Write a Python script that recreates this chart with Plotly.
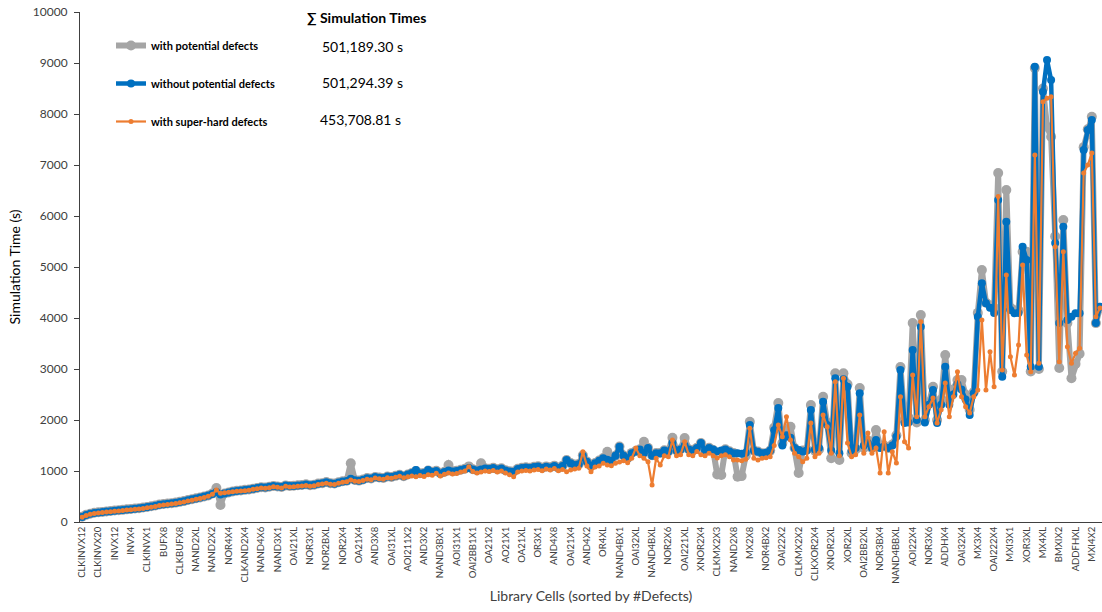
import plotly.graph_objects as go

# Labelled library cells (every 4th cell on the sorted axis)
tick_labels = [
    "CLKINVX12", "CLKINVX20", "INVX12", "INVX4", "CLKINVX1", "BUFX8", "CLKBUFX8",
    "NAND2XL", "NAND2X2", "NOR4X4", "CLKAND2X4", "NAND4X6", "NAND3X1", "OAI21XL",
    "NOR3X1", "NOR2BXL", "NOR2X4", "OA21X4", "AND3X8", "OAI31XL", "AOI211X2",
    "AND3X2", "NAND3BX1", "AOI31X1", "OAI2BB1X1", "OA21X2", "AO21X1", "OA21XL",
    "OR3X1", "AND4X8", "OAI21X4", "AND4X2", "OR4XL", "NAND4BX1", "OAI32XL",
    "NAND4BXL", "NOR2X6", "OAI221XL", "XNOR2X4", "CLKMX2X3", "NAND2X8", "MX2X8",
    "NOR4BX2", "OAI22X2", "CLKMX2X2", "CLKXOR2X4", "XNOR2XL", "XOR2XL",
    "OAI2BB2XL", "NOR3BX4", "NAND4BBXL", "AOI22X4", "NOR3X6", "ADDHX4", "OAI32X4",
    "MX3X4", "OAI222X4", "MXI3X1", "XOR3XL", "MX4XL", "BMXIX2", "ADDFHXL", "MXI4X2",
]
label_step = 4

# Simulation time (s) per library cell, sorted by number of defects
with_potential = [
    105, 140, 162, 180, 190, 198, 208, 215, 225, 232,
    238, 248, 255, 265, 272, 283, 295, 308, 323, 342,
    352, 362, 370, 380, 395, 410, 430, 448, 465, 482,
    500, 520, 560, 665, 335, 560, 580, 600, 612, 620,
    630, 638, 652, 668, 680, 678, 692, 708, 698, 688,
    718, 708, 710, 720, 725, 738, 722, 732, 755, 762,
    782, 762, 755, 778, 798, 808, 1150, 822, 812, 832,
    862, 855, 882, 872, 865, 892, 882, 905, 928, 898,
    932, 962, 1000, 955, 962, 1010, 985, 1005, 955, 985,
    1118, 995, 1005, 1025, 1045, 1090, 1035, 1015, 1150, 1055,
    1045, 1065, 1035, 1055, 1015, 995, 990, 1045, 1065, 1075,
    1065, 1085, 1095, 1065, 1090, 1075, 1105, 1065, 1105, 1216,
    1155, 1125, 1135, 1310, 1185, 1105, 1155, 1205, 1255, 1379,
    1210, 1300, 1480, 1305, 1255, 1355, 1390, 1425, 1575, 1455,
    1310, 1355, 1355, 1405, 1385, 1650, 1405, 1425, 1647, 1425,
    1405, 1455, 1550, 1405, 1455, 1412, 930, 922, 1425, 1385,
    1355, 889, 900, 1300, 1967, 1400, 1380, 1350, 1350, 1400,
    1850, 2333, 1550, 1800, 1869, 1450, 960, 1400, 1420, 2294,
    1400, 1420, 2457, 1950, 1250, 2915, 1216, 2915, 2700, 1350,
    1420, 2627, 1450, 1600, 1450, 1804, 1500, 1500, 1450, 1520,
    1700, 3039, 2000, 2050, 3902, 1950, 4059, 2000, 2350, 2653,
    2000, 2400, 3275, 2400, 2600, 2784, 2784, 2500, 2200, 2550,
    4100, 4941, 4300, 4250, 4200, 6843, 2950, 6510, 4200, 4150,
    4150, 5300, 5300, 2950, 8900, 3000, 8500, 7751, 7555, 5600,
    3020, 5922, 3900, 2817, 3100, 3300, 7350, 7700, 7947, 3900,
    4200,
]
without_potential = [
    100, 135, 160, 178, 188, 196, 205, 213, 222, 230,
    236, 245, 252, 262, 270, 280, 292, 305, 320, 340,
    350, 360, 368, 378, 392, 408, 428, 446, 462, 480,
    498, 520, 550, 590, 540, 560, 580, 600, 610, 620,
    628, 635, 650, 665, 680, 675, 690, 705, 695, 685,
    715, 705, 708, 718, 722, 735, 720, 730, 752, 760,
    780, 760, 752, 775, 795, 805, 850, 820, 810, 830,
    860, 852, 880, 870, 862, 890, 880, 900, 925, 895,
    930, 960, 1020, 950, 960, 1020, 980, 1000, 950, 980,
    1010, 990, 1000, 1020, 1040, 1060, 1030, 1010, 1030, 1050,
    1040, 1060, 1030, 1050, 1010, 990, 987, 1040, 1060, 1070,
    1060, 1080, 1090, 1060, 1085, 1070, 1100, 1060, 1100, 1216,
    1150, 1120, 1130, 1300, 1180, 1100, 1150, 1200, 1250, 1220,
    1200, 1300, 1477, 1300, 1250, 1350, 1380, 1420, 1350, 1450,
    1300, 1350, 1350, 1400, 1380, 1550, 1400, 1420, 1500, 1420,
    1400, 1450, 1549, 1400, 1450, 1420, 1380, 1400, 1420, 1380,
    1350, 1350, 1340, 1360, 1902, 1400, 1379, 1350, 1360, 1400,
    1800, 2235, 1500, 1700, 1650, 1450, 1412, 1380, 1400, 2196,
    1420, 1450, 2360, 1900, 1400, 2817, 1350, 2800, 2653, 1400,
    1450, 2523, 1500, 1550, 1450, 1608, 1450, 1480, 1450, 1500,
    1673, 2980, 1941, 1950, 3373, 2000, 3830, 1950, 2300, 2588,
    1941, 2300, 3046, 2300, 2500, 2700, 2600, 2400, 2100, 2523,
    4026, 4680, 4290, 4200, 4100, 6314, 2849, 5889, 4157, 4092,
    4100, 5398, 5137, 3046, 8928, 3046, 8438, 9059, 8667, 5470,
    3902, 5790, 3961, 4026, 4092, 4092, 7294, 7686, 7882, 3902,
    4222,
]
super_hard = [
    95, 125, 150, 168, 178, 186, 195, 203, 210, 218,
    225, 233, 240, 248, 256, 265, 278, 290, 305, 325,
    335, 345, 352, 362, 375, 390, 410, 428, 445, 462,
    480, 505, 545, 625, 565, 575, 585, 594, 602, 610,
    615, 622, 640, 652, 667, 660, 672, 690, 680, 668,
    700, 688, 692, 702, 706, 718, 700, 712, 735, 745,
    762, 742, 735, 758, 778, 790, 824, 800, 792, 812,
    838, 830, 862, 848, 840, 868, 858, 878, 898, 870,
    889, 902, 885, 910, 892, 928, 918, 955, 902, 938,
    960, 942, 950, 978, 1000, 1085, 990, 962, 978, 1000,
    992, 1010, 982, 1000, 962, 925, 889, 978, 1000, 1012,
    1002, 1020, 1030, 1005, 1040, 1022, 1050, 1005, 1030, 987,
    1020, 1040, 1052, 1379, 1100, 987, 1080, 1100, 1150, 1120,
    1102, 1150, 1178, 1200, 1160, 1250, 1450, 1300, 1250, 1180,
    725, 1250, 1118, 1300, 1280, 1608, 1300, 1320, 1575, 1320,
    1300, 1380, 1320, 1300, 1350, 1300, 1255, 1300, 1320, 1280,
    1216, 1216, 1200, 1230, 1840, 1250, 1216, 1250, 1260, 1281,
    1500, 1902, 1673, 2065, 1608, 1350, 1281, 1183, 1250, 1941,
    1281, 1350, 2098, 1869, 1350, 2751, 1300, 2817, 1549, 1281,
    1320, 2098, 1350, 1745, 1350, 1451, 960, 1771, 960, 1379,
    1157, 2457, 1575, 1451, 2882, 2065, 3928, 2065, 2261, 2431,
    1941, 2200, 2725, 2065, 2457, 2947, 2457, 2261, 2137, 2457,
    2588, 3961, 2588, 3340, 2650, 6380, 2980, 4843, 3242, 2882,
    3470, 5039, 3275, 2947, 7196, 3111, 8242, 8307, 8340, 5398,
    3144, 5300, 3438, 3111, 3307, 3405, 6843, 7000, 7235, 4026,
    4196,
]

series_names = ["with potential defects", "without potential defects", "with super-hard defects"]
series_totals = ["501,189.30 s", "501,294.39 s", "453,708.81 s"]

FONT = "Lato"
x_idx = list(range(len(super_hard)))

# plot-area geometry in pixels, used to place the free-floating texts
L, T, W, H = 80, 12, 1022, 510


def px_x(x):
    return (x - L) / W


def px_y(y):
    return (T + H - y) / H


fig = go.Figure()
styles = [
    (with_potential, "#A5A5A5", 6, 10),
    (without_potential, "#0070C0", 4.5, 8),
    (super_hard, "#ED7D31", 2.2, 5),
]
for k, (vals, color, lw, ms) in enumerate(styles):
    fig.add_trace(go.Scatter(
        x=x_idx, y=vals, mode="lines+markers", name=series_names[k],
        legendgroup=f"g{k}",
        line=dict(color=color, width=lw),
        marker=dict(color=color, size=ms),
    ))

tickvals = [i * label_step for i in range(len(tick_labels))]

fig.update_layout(
    width=1102, height=612,
    margin=dict(l=L, r=1102 - L - W, t=T, b=612 - T - H),
    plot_bgcolor="white", paper_bgcolor="white",
    font=dict(family=FONT, color="#404040"),
    showlegend=True,
    legend=dict(
        x=px_x(111), y=px_y(31), xanchor="left", yanchor="top",
        bgcolor="rgba(0,0,0,0)", tracegroupgap=19,
        font=dict(family=FONT, size=11, color="#000000", weight="bold"),
        itemwidth=30,
    ),
    xaxis=dict(
        range=[-0.5, 250.5],
        tickmode="array", tickvals=tickvals, ticktext=tick_labels,
        tickangle=-90, tickfont=dict(size=9.5, color="#404040"),
        showline=True, linecolor="#404040", linewidth=1,
        ticks="", showgrid=False, zeroline=False,
        title=dict(text="Library Cells (sorted by #Defects)",
                   font=dict(size=14, color="#404040"), standoff=8),
    ),
    yaxis=dict(
        range=[0, 10000], dtick=1000, tickformat="d",
        tickfont=dict(size=12, color="#404040"),
        showline=True, linecolor="#404040", linewidth=1,
        ticks="outside", ticklen=5, tickcolor="#404040",
        ticklabelstandoff=4,
        showgrid=False, zeroline=False,
        title=dict(text="Simulation Time (s)", font=dict(size=14, color="#000000"), standoff=8),
    ),
)

fig.add_annotation(
    x=px_x(305), y=px_y(18), xref="paper", yref="paper", text="<b>∑ Simulation Times</b>",
    showarrow=False, xanchor="left", yanchor="middle",
    font=dict(family=FONT, size=14, color="#000000"),
)
for txt, xpx, ypx in zip(series_totals, [320, 320, 318], [47, 83, 119]):
    fig.add_annotation(
        x=px_x(xpx), y=px_y(ypx), xref="paper", yref="paper",
        text=txt, showarrow=False, xanchor="left", yanchor="middle",
        font=dict(family=FONT, size=14, color="#000000"),
    )

fig.write_html("out.html")
